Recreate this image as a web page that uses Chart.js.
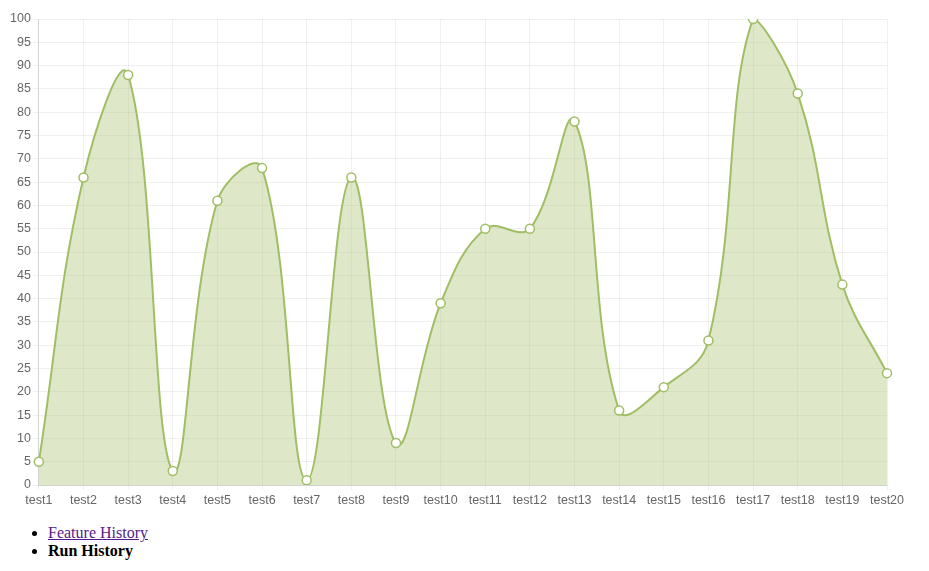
<!DOCTYPE html>
<html>
<head>
<meta charset="utf-8">
<script src="https://cdn.jsdelivr.net/npm/chart.js@4"></script>
<style>
    body { margin: 8px; font-family: "Liberation Serif", "Times New Roman", serif; font-size: 16px; }
    #wrap { width: 905px; height: 503px; }
    ul { margin: 13px 0 16px; padding-left: 40px; }
    a { color: #551a8b; }
</style>
</head>
<body>
<div id="wrap"><canvas id="chart"></canvas></div>
<ul>
    <li><a href="#">Feature History</a></li>
    <li><b>Run History</b></li>
</ul>
<script>
/**
 * Подписи по оси X и значения серии.
 */
const labels = ['test1', 'test2', 'test3', 'test4', 'test5', 'test6', 'test7', 'test8', 'test9', 'test10',
    'test11', 'test12', 'test13', 'test14', 'test15', 'test16', 'test17', 'test18', 'test19', 'test20'];
const values = [5, 66, 88, 3, 61, 68, 1, 66, 9, 39, 55, 55, 78, 16, 21, 31, 100, 84, 43, 24];
const yMin = 0;
const yMax = 100;
const yStep = 5;

const LINE = 'rgb(160,190,100)';
const FILL = 'rgba(160,190,100,0.35)';
const GRID = 'rgba(0,0,0,0.06)';
const FONT = { family: '"Liberation Sans", Arial, sans-serif', size: 12.5 };

const onDOMLoaded = () => {
    const ctx = document.getElementById('chart').getContext('2d');

    new Chart(ctx, {
        type: 'line',
        data: {
            labels,
            datasets: [{
                data: values,
                borderColor: LINE,
                backgroundColor: FILL,
                borderWidth: 2,
                fill: 'origin',
                tension: 0.4,
                pointRadius: 4.5,
                pointBorderWidth: 1.5,
                pointBackgroundColor: '#fff',
                pointBorderColor: LINE
            }]
        },
        options: {
            responsive: true,
            maintainAspectRatio: false,
            animation: false,
            layout: { padding: { right: 26, top: 11 } },
            plugins: {
                legend: { display: false },
                tooltip: { enabled: false }
            },
            scales: {
                x: {
                    grid: { color: GRID, tickLength: 5 },
                    border: { color: 'rgba(0,0,0,0.12)' },
                    ticks: {
                        color: '#666',
                        font: FONT,
                        maxRotation: 0,
                        autoSkip: false
                    }
                },
                y: {
                    min: yMin,
                    max: yMax,
                    grid: { color: GRID, tickLength: 6 },
                    border: { color: 'rgba(0,0,0,0.12)' },
                    ticks: {
                        stepSize: yStep,
                        color: '#666',
                        padding: 2,
                        font: FONT
                    }
                }
            }
        }
    });
};

document.addEventListener('DOMContentLoaded', onDOMLoaded);
</script>
</body>
</html>
